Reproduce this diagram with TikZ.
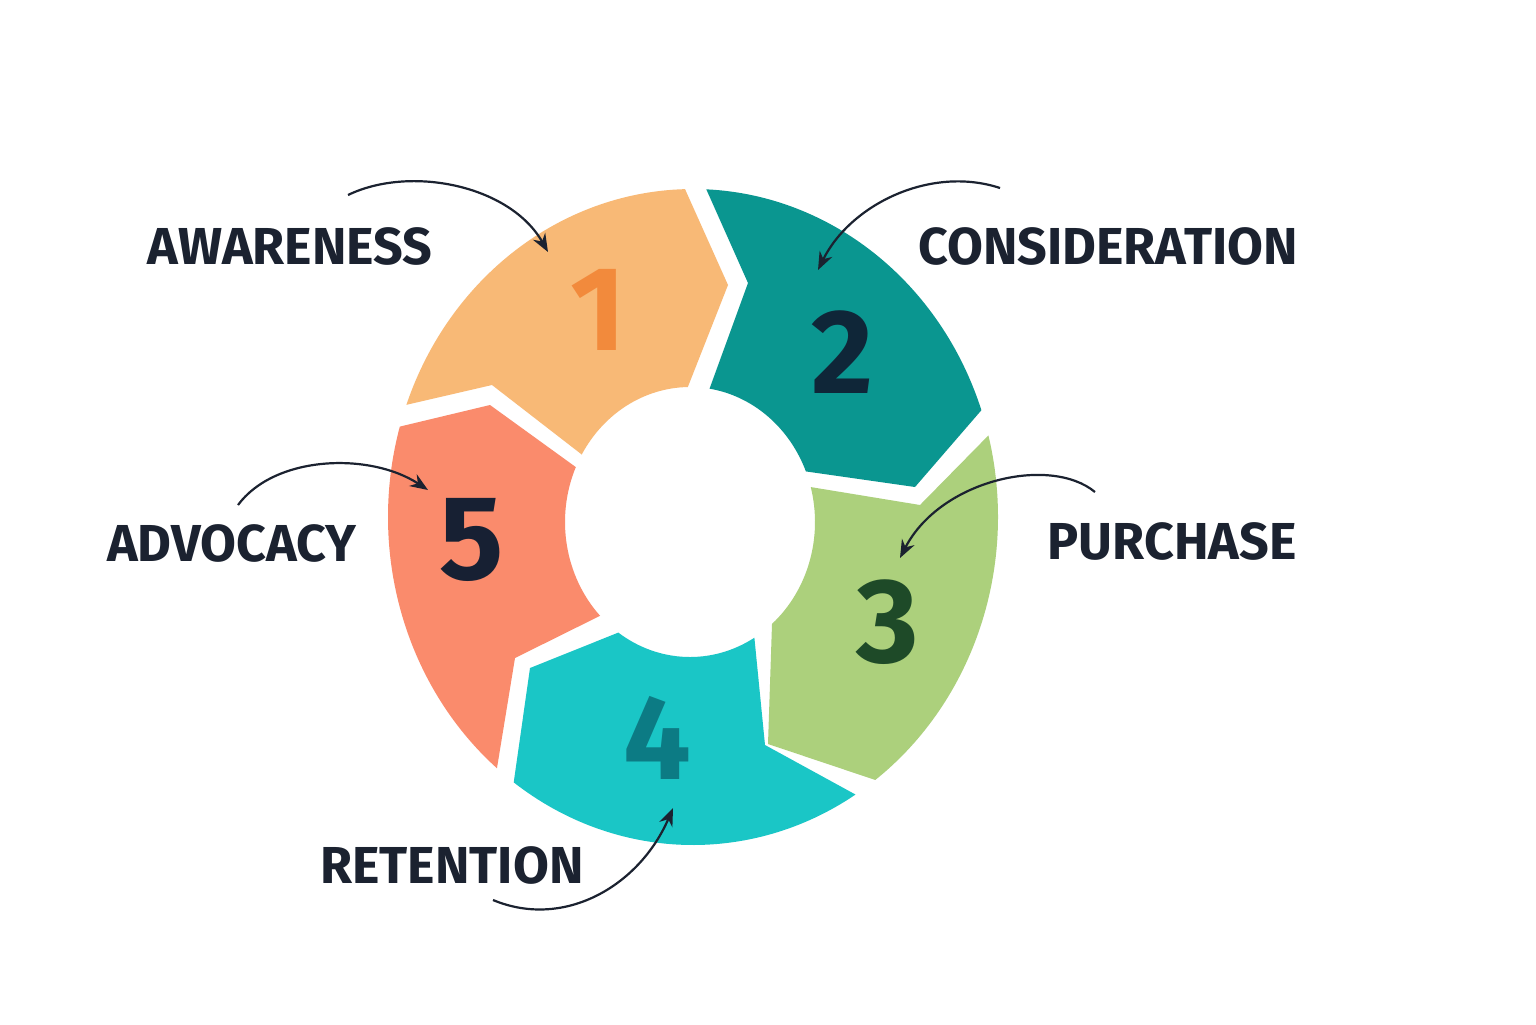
\documentclass[tikz,border=0pt]{standalone}
\usepackage{fontspec}
\setmainfont{Fira Sans}
\usetikzlibrary{calc,arrows.meta}
\definecolor{navy}{HTML}{1B2230}
\tikzset{
 seg/.style={draw=none},
 lbl/.style={font=\fontsize{26}{28}\selectfont\bfseries, text=navy},
 num/.style={font=\fontsize{60}{60}\selectfont\rmfamily\bfseries},
 cur/.style={draw=navy, line width=1.1pt, -{Stealth[length=9pt,width=7pt]}},
 R/.style={x radius=305,y radius=328},
 r/.style={x radius=125,y radius=135}
}
\begin{document}
\begin{tikzpicture}[x=0.5pt,y=-0.5pt]
\fill[white] (0,0) rectangle (1536,1024);
\useasboundingbox (0,0) rectangle (1536,1024);
\coordinate (C) at (693,517);
\coordinate (D) at (690,522);
% seg1
\fill[seg,fill={rgb,255:red,248;green,185;blue,118}]
 ($(C)+(200:305 and 328)$) arc[start angle=200,end angle=268.5,R]
 -- (728,285) -- ($(D)+(269:125 and 135)$) arc[start angle=269,end angle=210,r]
 -- (492,385) -- cycle;
% seg2
\fill[seg,fill={rgb,255:red,10;green,150;blue,144}]
 ($(C)+(272.5:305 and 328)$) arc[start angle=272.5,end angle=341,R]
 -- (915,487) -- ($(D)+(338:125 and 135)$) arc[start angle=338,end angle=279,r]
 -- (748,283) -- cycle;
% seg3
\fill[seg,fill={rgb,255:red,172;green,208;blue,124}]
 ($(C)+(345.6:305 and 328)$) arc[start angle=345.6,end angle=413.3,R]
 -- (768,744) -- ($(D)+(409:125 and 135)$) arc[start angle=409,end angle=345,r]
 -- (920,505) -- cycle;
% seg4
\fill[seg,fill={rgb,255:red,26;green,198;blue,198}]
 ($(C)+(57.8:305 and 328)$) arc[start angle=57.8,end angle=126,R]
 -- (530,668) -- ($(D)+(125:125 and 135)$) arc[start angle=125,end angle=59,r]
 -- (765,745) -- cycle;
% seg5
\fill[seg,fill={rgb,255:red,250;green,139;blue,108}]
 ($(C)+(130:305 and 328)$) arc[start angle=130,end angle=196,R]
 -- (490,405) -- ($(D)+(204:125 and 135)$) arc[start angle=204,end angle=136,r]
 -- (515,658) -- cycle;
% numbers
\node[num,text={rgb,255:red,242;green,138;blue,60}] (n1) at (598,310) {1};
\node[num,text={rgb,255:red,15;green,38;blue,56}] (n2) at (843,352) {2};
\node[num,text={rgb,255:red,30;green,74;blue,40}] (n3) at (888,622) {3};
\node[num,text={rgb,255:red,12;green,123;blue,132}] (n4) at (657,738) {4};
\node[num,text={rgb,255:red,23;green,32;blue,51}] (n5) at (472,540) {5};
% labels
\node[lbl] (aw) at (290,246) {AWARENESS};
\node[lbl] (co) at (1108,246) {CONSIDERATION};
\node[lbl] (pu) at (1172,541) {PURCHASE};
\node[lbl] (ad) at (232,543) {ADVOCACY};
\node[lbl] (re) at (452,865) {RETENTION};
% arrows
\coordinate (a1s) at (348,195); \coordinate (a1e) at (548,252);
\coordinate (a2s) at (1000,188); \coordinate (a2e) at (818,270);
\coordinate (a3s) at (1095,492); \coordinate (a3e) at (900,558);
\coordinate (a5s) at (238,505); \coordinate (a5e) at (428,490);
\coordinate (a4s) at (493,900); \coordinate (a4e) at (673,808);
\draw[cur] (a1s) .. controls (410,165) and (510,185) .. (a1e);
\draw[cur] (a2s) .. controls (930,165) and (850,205) .. (a2e);
\draw[cur] (a3s) .. controls (1050,455) and (940,480) .. (a3e);
\draw[cur] (a5s) .. controls (275,455) and (370,452) .. (a5e);
\draw[cur] (a4s) .. controls (565,930) and (640,885) .. (a4e);
\end{tikzpicture}
\end{document}
